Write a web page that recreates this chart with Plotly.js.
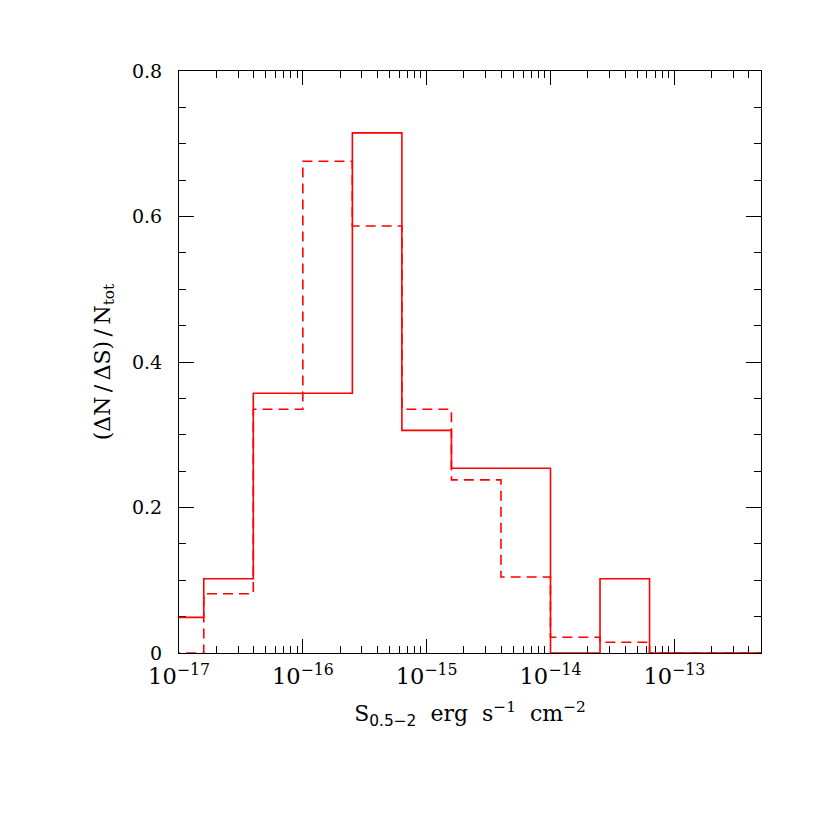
<!DOCTYPE html>
<html>
<head>
<meta charset="utf-8">
<script src="https://cdn.plot.ly/plotly-3.0.1.min.js"></script>
<style>
  html, body { margin: 0; padding: 0; background: #fff; }
  #chart { width: 830px; height: 830px; }
</style>
</head>
<body>
<div id="chart"></div>
<script>
// bin edges, log10(S) in 0.4 dex steps
const binEdgesLog = [-17.2, -16.8, -16.4, -16.0, -15.6, -15.2, -14.8, -14.4, -14.0, -13.6, -13.2, -12.8, -12.4, -12.0];

// fraction per bin (solid and dashed histograms)
const solidFrac  = [0.049, 0.102, 0.357, 0.357, 0.715, 0.306, 0.254, 0.254, 0.000, 0.102, 0.000, 0.000, 0.000];
const dashedFrac = [0.000, 0.0815, 0.335, 0.676, 0.587, 0.335, 0.238, 0.1045, 0.0216, 0.0147, 0.000, 0.000, 0.000];

const yTickVals = [0, 0.2, 0.4, 0.6, 0.8];
const yTickText = ['0', '0.2', '0.4', '0.6', '0.8'];

const edges = binEdgesLog.map(e => Math.pow(10, e));

// step trace: repeat last value so the last bin gets its top
function stepTrace(vals, dash) {
    return {
        x: edges,
        y: vals.concat([vals[vals.length - 1]]),
        type: 'scatter',
        mode: 'lines',
        line: { shape: 'hv', color: '#ff0000', width: 1.6, dash: dash },
        hoverinfo: 'skip',
        showlegend: false
    };
}

const serif = 'DejaVu Serif, Liberation Serif, serif';
const sans = 'DejaVu Sans, Liberation Sans, sans-serif';
const sp = '\u00a0\u00a0';

const layout = {
    width: 830,
    height: 830,
    margin: { l: 179, r: 69, t: 71, b: 177 },
    paper_bgcolor: '#fff',
    plot_bgcolor: '#fff',
    font: { family: serif, size: 18, color: '#000' },
    showlegend: false,
    xaxis: {
        type: 'log',
        range: [-17, -12.3],
        dtick: 1,
        exponentformat: 'power',
        ticks: 'inside',
        ticklen: 14,
        tickwidth: 1,
        tickcolor: '#000',
        minor: { ticks: 'inside', ticklen: 7, dtick: 'D1', tickcolor: '#000', tickwidth: 1 },
        showline: true,
        linecolor: '#000',
        linewidth: 1,
        mirror: 'allticks',
        showgrid: false,
        zeroline: false,
        layer: 'below traces',
        ticklabelstandoff: 4,
        tickfont: { family: serif, size: 18, color: '#000' },
        title: {
            text: 'S<sub><span style="font-family:' + sans + '">0.5\u22122</span></sub>' + sp + 'erg' + sp + 's<sup>\u22121</sup>' + sp + 'cm<sup>\u22122</sup>',
            font: { family: serif, size: 22, color: '#000' },
            standoff: 17
        }
    },
    yaxis: {
        range: [0, 0.8],
        tickvals: yTickVals,
        ticktext: yTickText,
        ticks: 'inside',
        ticklen: 15,
        tickwidth: 1,
        tickcolor: '#000',
        minor: { ticks: 'inside', ticklen: 7, dtick: 0.05, tickcolor: '#000', tickwidth: 1 },
        showline: true,
        linecolor: '#000',
        linewidth: 1,
        mirror: 'allticks',
        showgrid: false,
        zeroline: false,
        layer: 'below traces',
        ticklabelstandoff: 12,
        tickfont: { family: serif, size: 19, color: '#000' },
        title: {
            text: '(\u0394N\u2009/\u2009\u0394S)\u2009/\u2009N<sub>tot</sub>',
            font: { family: serif, size: 22, color: '#000' },
            standoff: 15
        }
    }
};

Plotly.newPlot('chart', [stepTrace(solidFrac, 'solid'), stepTrace(dashedFrac, '10px,6px')], layout, { staticPlot: true, displayModeBar: false });
</script>
</body>
</html>
